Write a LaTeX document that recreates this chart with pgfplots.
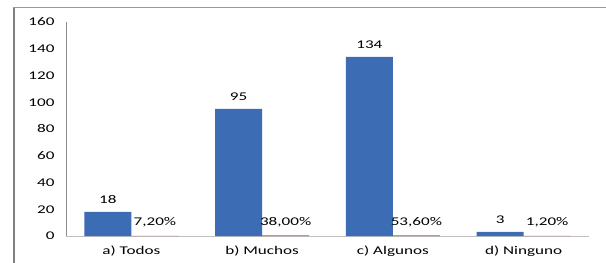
\documentclass[border=0pt]{standalone}
\usepackage{pgfplots}
\pgfplotsset{compat=1.18}
\usepackage{fontspec}
\setmainfont{Carlito}[FakeStretch=1.45]
\definecolor{bluec}{RGB}{60,109,180}
\definecolor{redc}{RGB}{192,80,77}
\begin{document}
\begin{tikzpicture}[font=\fontsize{11.8bp}{13bp}\selectfont]
\useasboundingbox (-66bp,-27bp) rectangle (540bp,236bp);
\draw[color=black!50, line width=2bp] (-51.5bp,-28bp) -- (-51.5bp,228bp);
\draw[color=black!40, line width=1bp] (-52.5bp,228bp) -- (541bp,228bp);
\begin{axis}[
  at={(0,0)}, anchor=south west,
  scale only axis, width=523bp, height=214bp,
  xmin=-0.5, xmax=3.5, ymin=0, ymax=160,
  ytick={0,20,...,160},
  xtick={0,1,2,3},
  xticklabels={a) Todos, b) Muchos, c) Algunos, d) Ninguno},
  /pgf/number format/assume math mode=true,
  axis x line*=bottom, axis y line*=left,
  x axis line style={draw=black!25, line width=1bp, -},
  y axis line style={draw=black!45, line width=0.8bp, -},
  major tick length=0pt,
  tick style={draw=none},
  yticklabel style={anchor=east, xshift=-8bp},
  xticklabel style={anchor=center, yshift=-15bp},
  ybar, bar width=0.36,
  nodes near coords,
  every node near coord/.append style={anchor=south, yshift=5bp, text=black},
  clip=false,
]
\addplot[fill=bluec, draw=none, bar shift=-0.18] coordinates {(0,18) (1,95) (2,134) (3,3)};
\addplot[fill=redc, draw=none, bar shift=0.18, point meta=explicit symbolic] coordinates {
  (0,0.072) [7,20\%]
  (1,0.38) [38,00\%]
  (2,0.536) [53,60\%]
  (3,0.012) [1,20\%]
};
\end{axis}
\end{tikzpicture}
\end{document}
